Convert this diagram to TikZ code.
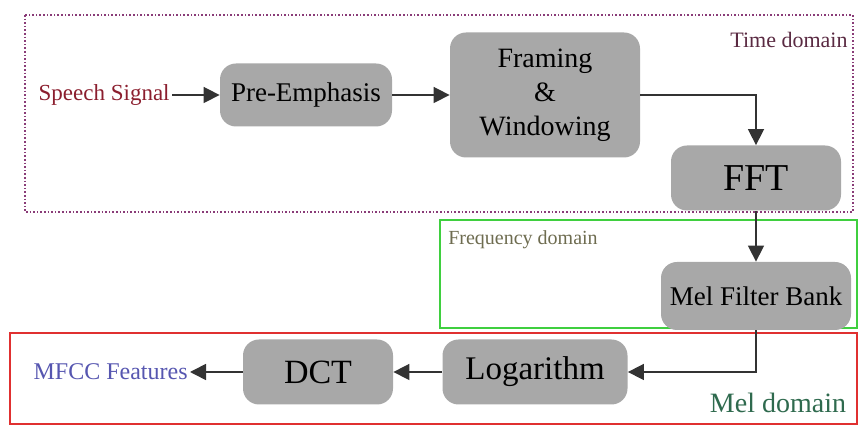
\documentclass[tikz,border=0pt]{standalone}
\usepackage{fontspec}
\setmainfont{Liberation Serif}
\usetikzlibrary{arrows.meta, positioning}

\definecolor{boxgray}{HTML}{A8A8A8}
\definecolor{linegray}{HTML}{333333}
\definecolor{speechred}{HTML}{8B1E2E}
\definecolor{mfccblue}{HTML}{5656B0}
\definecolor{timepurple}{HTML}{8A3C78}
\definecolor{timetext}{HTML}{5A2A42}
\definecolor{freqgreen}{HTML}{3FCF3F}
\definecolor{freqtext}{HTML}{6E6C50}
\definecolor{melred}{HTML}{E03030}
\definecolor{meltext}{HTML}{2F6A4E}

\tikzset{
  stage/.style={fill=boxgray, rounded corners=8pt, align=center, inner sep=2pt},
  flow/.style={draw=linegray, thick, -{Triangle[length=8pt,width=8pt]}},
  domainlabel/.style={font=\fontsize{11}{13}\selectfont}
}

\begin{document}
\begin{tikzpicture}[x=0.5pt, y=-0.5pt]
        \useasboundingbox (0,0) rectangle (858,426);
        % domain frames
        \draw[timepurple, densely dotted, thick] (25,15) rectangle (853,212);
        \draw[freqgreen, thick] (440,220) rectangle (857,328);
        \draw[melred, thick] (10,333) rectangle (857,424);
        \node[domainlabel, timetext] (TD) at (789,40) {Time domain};
        \node[domainlabel, freqtext, font=\fontsize{10}{12}\selectfont] (FD) at (523,240) {Frequency domain};
        \node[domainlabel, meltext, font=\fontsize{14}{16}\selectfont] (MD) at (778,403) {Mel domain};
        % stages
        \node[speechred, font=\fontsize{11.5}{14}\selectfont, anchor=east, inner sep=1pt] (SS) at (172,95) {Speech Signal};
        \node[stage, minimum width=86pt, minimum height=31.5pt, font=\fontsize{13.5}{15}\selectfont] (PE) at (306,95) {Pre-Emphasis};
        \node[stage, minimum width=95pt, minimum height=62.5pt, font=\fontsize{14}{17}\selectfont] (FW) at (545,95) {Framing\\\&\\Windowing};
        \node[stage, minimum width=85pt, minimum height=32.5pt, font=\fontsize{19}{21}\selectfont] (FFT) at (756,178) {FFT};
        \node[stage, minimum width=95pt, minimum height=34pt, font=\fontsize{13.5}{15}\selectfont] (MFB) at (756,296) {Mel Filter Bank};
        \node[stage, minimum width=92.5pt, minimum height=32.5pt, font=\fontsize{16.5}{18}\selectfont] (LOG) at (535,372) {Logarithm};
        \node[stage, minimum width=75pt, minimum height=32.5pt, font=\fontsize{17}{19}\selectfont] (DCT) at (318,372) {DCT};
        \node[mfccblue, font=\fontsize{12}{14}\selectfont, anchor=east, inner sep=1pt] (MF) at (190,372) {MFCC Features};
        % connectors
        \draw[flow] (SS) -- (PE);
        \draw[flow] (PE) -- (FW);
        \draw[flow] (FW.east) -| (FFT.north);
        \draw[flow] (FFT) -- (MFB);
        \draw[flow] (MFB.south) |- (LOG.east);
        \draw[flow] (LOG) -- (DCT);
        \draw[flow] (DCT) -- (MF);
    \end{tikzpicture}
\end{document}
